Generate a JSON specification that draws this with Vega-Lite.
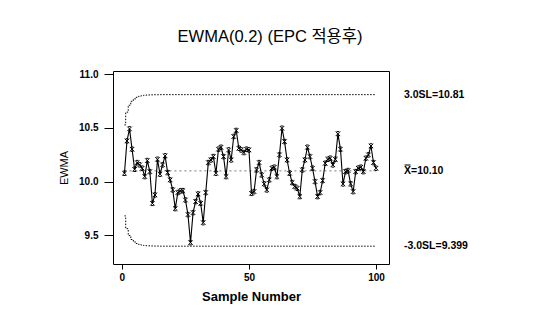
{
  "$schema": "https://vega.github.io/schema/vega-lite/v6.json",
  "autosize": {"type": "none"},
  "width": 276,
  "height": 193,
  "padding": {"left": 113, "top": 71, "right": 145, "bottom": 61},
  "background": "white",
  "config": {
    "view": {"stroke": "black", "strokeWidth": 1},
    "font": "Liberation Sans, Noto Sans CJK KR",
    "axis": {"domain": false, "grid": false, "tickColor": "black", "labelColor": "black", "titleColor": "black", "labelFont": "Liberation Sans", "titleFont": "Liberation Sans"}
  },
  "title": {"text": "EWMA(0.2) (EPC 적용후)", "font": "Liberation Sans, Noto Sans CJK KR", "fontSize": 16.5, "fontWeight": "normal", "anchor": "middle", "dx": 19, "offset": 11, "baseline": "alphabetic", "color": "black"},
  "datasets": {
    "ewma": [
      {"sample":1,"value":10.078},{"sample":2,"value":10.379},{"sample":3,"value":10.491},{"sample":4,"value":10.302},{"sample":5,"value":10.115},
      {"sample":6,"value":10.177},{"sample":7,"value":10.156},{"sample":8,"value":10.125},{"sample":9,"value":10.047},{"sample":10,"value":10.196},
      {"sample":11,"value":10.093},{"sample":12,"value":9.798},{"sample":13,"value":9.876},{"sample":14,"value":10.208},{"sample":15,"value":10.069},
      {"sample":16,"value":10.156},{"sample":17,"value":10.240},{"sample":18,"value":10.084},{"sample":19,"value":10.016},{"sample":20,"value":9.923},
      {"sample":21,"value":9.749},{"sample":22,"value":9.898},{"sample":23,"value":9.913},{"sample":24,"value":9.916},{"sample":25,"value":9.829},
      {"sample":26,"value":9.693},{"sample":27,"value":9.432},{"sample":28,"value":9.711},{"sample":29,"value":9.814},{"sample":30,"value":9.885},
      {"sample":31,"value":9.798},{"sample":32,"value":9.618},{"sample":33,"value":9.898},{"sample":34,"value":10.177},{"sample":35,"value":10.202},
      {"sample":36,"value":10.233},{"sample":37,"value":10.078},{"sample":38,"value":10.302},{"sample":39,"value":10.320},{"sample":40,"value":10.233},
      {"sample":41,"value":10.047},{"sample":42,"value":10.295},{"sample":43,"value":10.202},{"sample":44,"value":10.420},{"sample":45,"value":10.476},
      {"sample":46,"value":10.311},{"sample":47,"value":10.295},{"sample":48,"value":10.271},{"sample":49,"value":10.302},{"sample":50,"value":10.295},
      {"sample":51,"value":9.891},{"sample":52,"value":9.907},{"sample":53,"value":10.109},{"sample":54,"value":10.177},{"sample":55,"value":10.062},
      {"sample":56,"value":9.979},{"sample":57,"value":9.923},{"sample":58,"value":10.016},{"sample":59,"value":10.125},{"sample":60,"value":10.134},
      {"sample":61,"value":10.047},{"sample":62,"value":10.249},{"sample":63,"value":10.497},{"sample":64,"value":10.373},{"sample":65,"value":10.202},
      {"sample":66,"value":10.078},{"sample":67,"value":9.991},{"sample":68,"value":9.954},{"sample":69,"value":9.938},{"sample":70,"value":9.861},
      {"sample":71,"value":10.109},{"sample":72,"value":10.202},{"sample":73,"value":10.320},{"sample":74,"value":10.233},{"sample":75,"value":10.125},
      {"sample":76,"value":10.000},{"sample":77,"value":9.861},{"sample":78,"value":9.898},{"sample":79,"value":10.010},{"sample":80,"value":10.171},
      {"sample":81,"value":10.208},{"sample":82,"value":10.218},{"sample":83,"value":10.156},{"sample":84,"value":10.208},{"sample":85,"value":10.445},
      {"sample":86,"value":10.302},{"sample":87,"value":9.979},{"sample":88,"value":10.093},{"sample":89,"value":10.103},{"sample":90,"value":9.979},
      {"sample":91,"value":9.907},{"sample":92,"value":10.093},{"sample":93,"value":10.125},{"sample":94,"value":10.134},{"sample":95,"value":10.093},
      {"sample":96,"value":10.218},{"sample":97,"value":10.249},{"sample":98,"value":10.332},{"sample":99,"value":10.177},{"sample":100,"value":10.125}
    ],
    "limits": [
      {"sample":1,"limit":"UCL","value":10.528},{"sample":2,"limit":"UCL","value":10.647},{"sample":3,"limit":"UCL","value":10.711},{"sample":4,"limit":"UCL","value":10.748},
      {"sample":5,"limit":"UCL","value":10.771},{"sample":6,"limit":"UCL","value":10.785},{"sample":7,"limit":"UCL","value":10.794},{"sample":8,"limit":"UCL","value":10.800},
      {"sample":9,"limit":"UCL","value":10.804},{"sample":10,"limit":"UCL","value":10.806},{"sample":11,"limit":"UCL","value":10.807},{"sample":12,"limit":"UCL","value":10.808},
      {"sample":13,"limit":"UCL","value":10.809},{"sample":14,"limit":"UCL","value":10.809},{"sample":15,"limit":"UCL","value":10.810},{"sample":100,"limit":"UCL","value":10.810},
      {"sample":1,"limit":"LCL","value":9.681},{"sample":2,"limit":"LCL","value":9.562},{"sample":3,"limit":"LCL","value":9.498},{"sample":4,"limit":"LCL","value":9.461},
      {"sample":5,"limit":"LCL","value":9.438},{"sample":6,"limit":"LCL","value":9.424},{"sample":7,"limit":"LCL","value":9.415},{"sample":8,"limit":"LCL","value":9.409},
      {"sample":9,"limit":"LCL","value":9.405},{"sample":10,"limit":"LCL","value":9.403},{"sample":11,"limit":"LCL","value":9.402},{"sample":12,"limit":"LCL","value":9.401},
      {"sample":13,"limit":"LCL","value":9.400},{"sample":14,"limit":"LCL","value":9.400},{"sample":15,"limit":"LCL","value":9.399},{"sample":100,"limit":"LCL","value":9.399}
    ],
    "center": [{"sample":1,"value":10.10},{"sample":100,"value":10.10}],
    "labels": [
      {"label":"3.0SL=10.81","value":10.81},
      {"label":"X̿=10.10","value":10.10},
      {"label":"-3.0SL=9.399","value":9.399}
    ]
  },
  "layer": [
    {
      "data": {"name": "limits"},
      "mark": {"type": "line", "interpolate": "step", "color": "black", "strokeWidth": 1, "strokeDash": [1.5, 1.5]},
      "encoding": {
        "x": {"field": "sample", "type": "quantitative", "scale": {"domain": [-3.5, 105.1], "nice": false, "zero": false},
              "axis": {"values": [0, 50, 100], "title": "Sample Number", "tickSize": 5, "labelFontSize": 10, "labelFontWeight": "bold", "labelPadding": 3, "titleFontSize": 13, "titleFontWeight": "bold", "titlePadding": 8}},
        "y": {"field": "value", "type": "quantitative", "scale": {"domain": [9.233, 11.03], "nice": false, "zero": false},
              "axis": {"values": [9.5, 10, 10.5, 11], "format": ".1f", "title": "EWMA", "tickSize": 9, "labelFontSize": 10, "labelFontWeight": "bold", "labelPadding": 6, "titleFontSize": 11, "titleFontWeight": "normal", "titlePadding": 9}},
        "detail": {"field": "limit"}
      }
    },
    {
      "data": {"name": "center"},
      "mark": {"type": "line", "color": "#777777", "strokeWidth": 1, "strokeDash": [2, 3]},
      "encoding": {
        "x": {"field": "sample", "type": "quantitative"},
        "y": {"field": "value", "type": "quantitative"}
      }
    },
    {
      "data": {"name": "ewma"},
      "mark": {"type": "line", "color": "black", "strokeWidth": 1.1},
      "encoding": {
        "x": {"field": "sample", "type": "quantitative"},
        "y": {"field": "value", "type": "quantitative"}
      }
    },
    {
      "data": {"name": "ewma"},
      "mark": {"type": "point", "shape": "M-1,-1L1,1M1,-1L-1,1M-0.6,-1H0.6M-0.6,1H0.6", "filled": false, "stroke": "black", "strokeWidth": 1, "size": 20, "opacity": 1},
      "encoding": {
        "x": {"field": "sample", "type": "quantitative"},
        "y": {"field": "value", "type": "quantitative"}
      }
    },
    {
      "data": {"name": "labels"},
      "mark": {"type": "text", "align": "left", "baseline": "middle", "dx": 15, "font": "Liberation Sans, DejaVu Sans", "fontSize": 10.5, "fontWeight": "bold", "color": "black"},
      "encoding": {
        "x": {"datum": 105.1, "type": "quantitative"},
        "y": {"field": "value", "type": "quantitative"},
        "text": {"field": "label"}
      }
    }
  ]
}
